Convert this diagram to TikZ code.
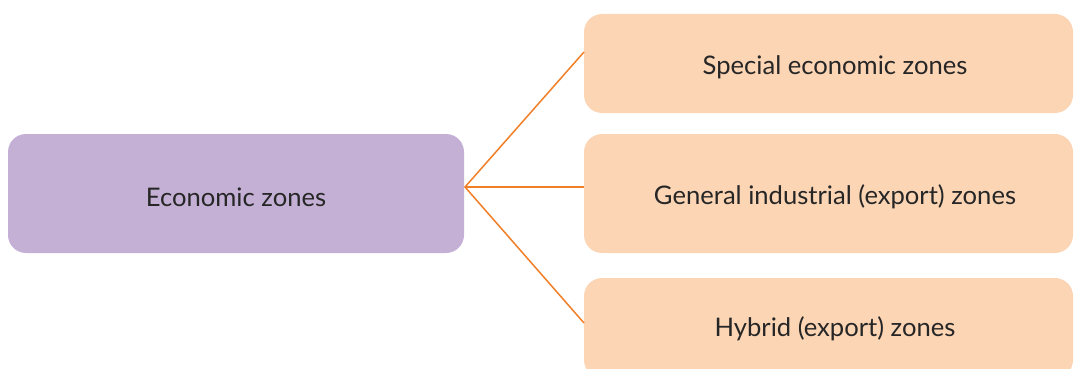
\documentclass[tikz,border=0pt]{standalone}
\usepackage{fontspec}
\setmainfont{Lato}
\definecolor{purp}{HTML}{C5B0D5}
\definecolor{peach}{HTML}{FCD5B5}
\definecolor{ora}{HTML}{F07F28}
\begin{document}
\begin{tikzpicture}[x=1pt,y=-1pt,
  box/.style={rounded corners=18pt,inner sep=0pt},
  lbl/.style={font=\fontsize{25.6}{30}\selectfont,text=black!85},
  conn/.style={draw=ora,line width=1.5pt}]
\useasboundingbox (0,0) rectangle (1074,369);
\clip (0,0) rectangle (1074,369);
\fill[purp,box] (8,134) rectangle (464,253);
\fill[peach,box] (584,14) rectangle (1073,113);
\fill[peach,box] (584,134) rectangle (1073,253);
\fill[peach,box] (584,278) rectangle (1073,378);
\node[lbl] (ez) at (236,197) {Economic zones};
\node[lbl] (sez) at (835,67) {Special economic zones};
\node[lbl] (giz) at (835,197) {General industrial (export) zones};
\node[lbl] (hez) at (835,329) {Hybrid (export) zones};
\coordinate (hub) at (465,187);
\coordinate (t1) at (584,52);
\coordinate (t2) at (584,187);
\coordinate (t3) at (584,323);
\draw[conn] (t1) -- (hub) -- (t3);
\draw[conn] (hub) -- (t2);
\end{tikzpicture}
\end{document}
